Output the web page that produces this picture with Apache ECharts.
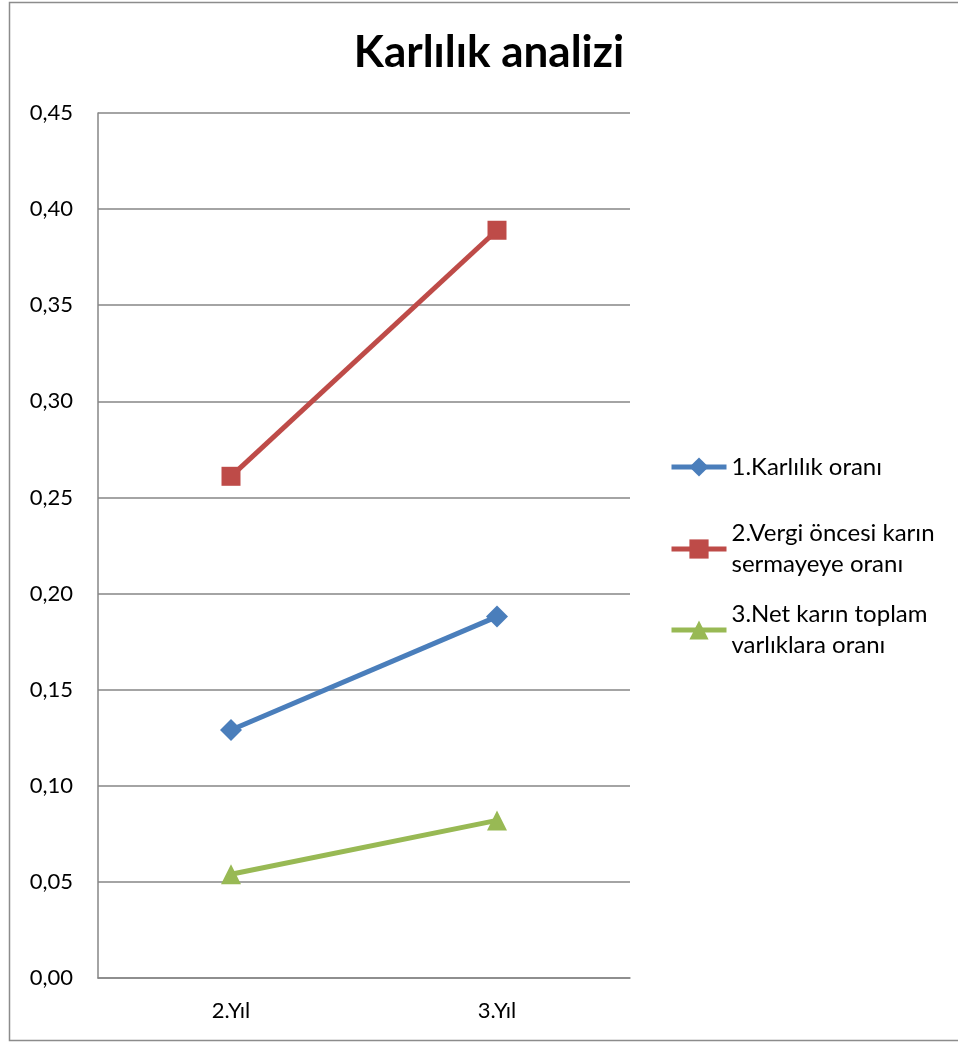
<!DOCTYPE html>
<html>
<head>
<meta charset="utf-8">
<script src="https://cdn.jsdelivr.net/npm/echarts@6/dist/echarts.min.js"></script>
<style>
  html, body { margin: 0; padding: 0; background: #fff; }
  #myChart { width: 958px; height: 1045px; }
</style>
</head>
<body>
<div id="myChart"></div>
<script>
// kategoriler ve seriler
const years = ['2.Yıl', '3.Yıl']
const karlilikOrani = [0.129, 0.188]
const vergiOncesi = [0.261, 0.389]
const netKar = [0.054, 0.082]
const seriesNames = ['1.Karlılık oranı', '2.Vergi öncesi karın\nsermayeye oranı', '3.Net karın toplam\nvarlıklara oranı']

const font = 'Lato, "Open Sans", sans-serif'

let myChart = echarts.init(document.getElementById('myChart'))

function legendAt(name, top, twoLines) {
  return {
    data: [name],
    orient: 'vertical',
    left: 669,
    top: top,
    padding: 0,
    itemWidth: 55,
    itemHeight: 24,
    lineStyle: { width: 5 },
    textStyle: {
      fontFamily: font,
      fontSize: 24,
      color: '#000',
      lineHeight: 31,
      padding: twoLines ? [31, 0, 0, 0] : 0
    }
  }
}

myChart.setOption({
  animation: false,
  title: {
    text: 'Karlılık analizi',
    left: 484,
    top: 26,
    textAlign: 'center',
    textStyle: { fontFamily: font, fontSize: 44, fontWeight: 'bold', color: '#000' }
  },
  graphic: [{
    type: 'rect',
    silent: true,
    shape: { x: 9.5, y: 2.5, width: 1000, height: 1038 },
    style: { fill: 'none', stroke: '#8c8c8c', lineWidth: 1.5 }
  }],
  legend: [
    legendAt(seriesNames[0], 451.5, false),
    legendAt(seriesNames[1], 502.5, true),
    legendAt(seriesNames[2], 583.5, true)
  ],
  grid: { left: 98, right: 328, top: 113, bottom: 67 },
  xAxis: {
    type: 'category',
    data: years,
    boundaryGap: true,
    axisLine: { lineStyle: { color: '#868686', width: 1.5 } },
    axisTick: { show: false },
    axisLabel: { fontFamily: font, fontSize: 22, color: '#000', margin: 22 }
  },
  yAxis: {
    type: 'value',
    min: 0,
    max: 0.45,
    interval: 0.05,
    axisLine: { show: true, lineStyle: { color: '#868686', width: 1.5 } },
    axisTick: { show: false },
    splitLine: { lineStyle: { color: '#868686', width: 1.5 } },
    axisLabel: {
      fontFamily: font, fontSize: 22, color: '#000', margin: 25,
      formatter: v => v.toFixed(2).replace('.', ',')
    }
  },
  series: [
    {
      name: seriesNames[0], type: 'line', data: karlilikOrani,
      symbol: 'diamond', symbolSize: 22,
      itemStyle: { color: '#4a7ebb' },
      lineStyle: { color: '#4a7ebb', width: 5 }
    },
    {
      name: seriesNames[1], type: 'line', data: vergiOncesi,
      symbol: 'rect', symbolSize: 19,
      itemStyle: { color: '#be4b48' },
      lineStyle: { color: '#be4b48', width: 5 }
    },
    {
      name: seriesNames[2], type: 'line', data: netKar,
      symbol: 'triangle', symbolSize: 20,
      itemStyle: { color: '#98b954' },
      lineStyle: { color: '#98b954', width: 5 }
    }
  ]
})
</script>
</body>
</html>
